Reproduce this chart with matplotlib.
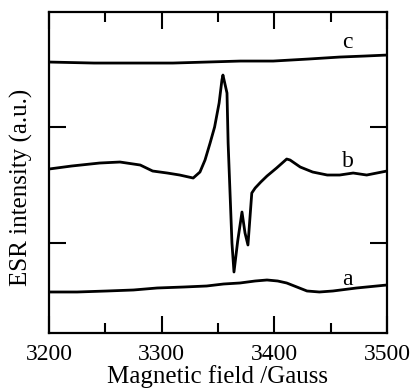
import matplotlib
matplotlib.use("Agg")
import matplotlib.pyplot as plt
from matplotlib.ticker import MultipleLocator, FixedLocator

plt.rcParams['font.family'] = ['Liberation Serif', 'DejaVu Serif']

# Trace a (bottom)
field_a = [3200, 3225, 3251.5, 3275, 3296, 3320, 3340, 3355, 3369.5, 3383, 3393.5, 3403,
           3411, 3420, 3429, 3440, 3452, 3473, 3500]
int_a = [41, 41, 42, 43, 45, 46, 47, 49, 50, 52, 53, 52,
         50, 46, 42, 41, 42, 45, 48]

# Trace b (middle, with signal)
field_b = [3200, 3220, 3245, 3263, 3281, 3292, 3305, 3316, 3328, 3334, 3338.5, 3343, 3347, 3351,
           3353.5, 3354.4, 3358, 3359, 3360.7, 3362.4, 3364.2, 3367.5, 3371.3, 3374, 3376.6, 3380,
           3383, 3388, 3393.5, 3402, 3407, 3411, 3414, 3423, 3434, 3447, 3458, 3470, 3482, 3500]
int_b = [164, 167, 170, 171, 168, 162, 160, 158, 155, 161, 173, 190, 206, 230,
         253, 258, 240, 190, 140, 90, 61, 92, 121, 100, 88, 140,
         145, 151, 157, 165, 170, 174, 173, 166, 161, 158, 158, 160, 158, 162]

# Trace c (top)
field_c = [3200, 3240, 3281, 3310, 3340, 3370, 3399, 3430, 3458, 3480, 3500]
int_c = [271, 270, 270, 270, 271, 272, 272, 274, 276, 277, 278]

labels = ['a', 'b', 'c']
label_x = [3464.5, 3465, 3465]
label_y = [48, 166, 285]

fig = plt.figure(figsize=(4.13, 3.89), dpi=100)
ax = fig.add_axes([0.1186, 0.144, 0.8184, 0.825])

for f, v in [(field_a, int_a), (field_b, int_b), (field_c, int_c)]:
    ax.plot(f, v, color='black', lw=2.0)

for t, x, y in zip(labels, label_x, label_y):
    ax.text(x, y, t, fontsize=17, ha='center', va='baseline')

ax.set_xlim(3200, 3500)
ax.set_ylim(0, 321)
ax.xaxis.set_major_locator(MultipleLocator(100))
ax.xaxis.set_minor_locator(MultipleLocator(50))
ax.yaxis.set_major_locator(FixedLocator([90, 206]))
ax.set_yticklabels([])
ax.tick_params(which='both', direction='in', top=True, right=True, width=1.5)
ax.tick_params(which='major', length=12, labelsize=17, pad=8)
ax.tick_params(which='minor', length=7)
for s in ax.spines.values():
    s.set_linewidth(1.6)

fig.text(ax.get_position().x0 + ax.get_position().width / 2, 5.6 / 389,
         'Magnetic field /Gauss', fontsize=18, ha='center', va='baseline')
ax.set_ylabel('ESR intensity (a.u.)', fontsize=18)
ax.yaxis.set_label_coords(-0.047, 0.455)

fig.savefig('out.png', dpi=100)
